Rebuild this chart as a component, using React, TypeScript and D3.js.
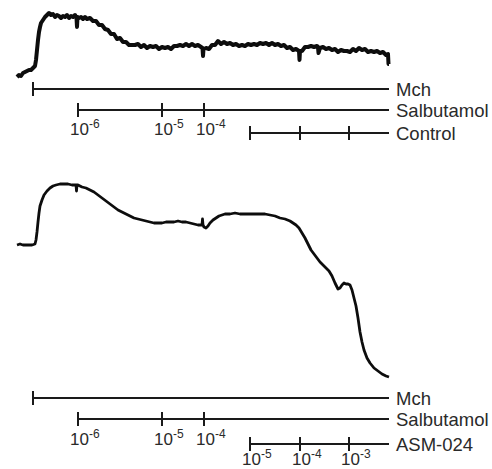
import React from "react";
import * as d3 from "d3";

// Control recording: time (s, relative) and tension (arbitrary units)
const controlT = [
  0, 2, 4, 6, 8, 10, 12, 14, 16, 18,
  19, 20, 21, 22, 23, 24, 26, 28, 30, 32,
  34, 36, 38, 40, 42, 44, 46, 48, 50, 52,
  54, 56, 58, 59.5, 60, 60.5, 62, 64, 66, 68,
  70, 73, 76, 79, 82, 85, 88, 91, 94, 97,
  100, 103, 106, 109, 112, 115, 118, 121, 124, 127,
  130, 133, 136, 139, 142, 145, 148, 151, 154, 157,
  160, 163, 166, 169, 172, 175, 178, 181, 184, 185.5,
  186, 186.5, 189, 192, 195, 198, 201, 204, 207, 210,
  213, 216, 219, 222, 225, 228, 231, 234, 237, 240,
  243, 246, 249, 252, 255, 258, 261, 264, 267, 270,
  273, 276, 279, 282, 282.5, 283, 285, 288, 291, 294,
  297, 300, 301, 301.5, 303, 306, 309, 312, 315, 318,
  321, 324, 327, 330, 333, 336, 339, 342, 345, 348,
  351, 354, 357, 360, 363, 366, 369, 371, 371.5, 372,
];
const controlV = [
  3, 5, 4, 7, 8, 9, 10, 10, 12, 14,
  20, 30, 40, 48, 53, 57, 60, 63, 65, 67,
  65, 66, 63, 65, 64, 62, 64, 63, 65, 62,
  64, 63, 65, 62, 53, 63, 62, 63, 61, 63,
  61, 62, 59, 59, 55, 55, 51, 50, 46, 46,
  41, 42, 38, 38, 35, 35, 35, 36, 33, 35,
  32, 34, 33, 34, 31, 33, 32, 33, 31, 34,
  34, 35, 34, 36, 34, 36, 34, 35, 33, 32,
  24, 31, 32, 31, 35, 35, 39, 36, 38, 36,
  37, 35, 36, 34, 35, 34, 36, 35, 36, 35,
  37, 36, 37, 35, 37, 35, 36, 34, 35, 32,
  33, 30, 31, 29, 20, 29, 29, 33, 33, 34,
  33, 34, 33, 27, 32, 33, 31, 32, 30, 31,
  28, 30, 29, 29, 28, 31, 29, 32, 30, 31,
  28, 29, 28, 29, 27, 28, 25, 26, 16, 16,
];

// ASM-024 recording: time and tension
const asmT = [
  0, 3, 6, 9, 12, 15, 18, 19, 20, 21,
  22, 23, 25, 27, 30, 33, 36, 39, 43, 47,
  51, 55, 59, 59.5, 60, 61, 65, 69, 73, 77,
  81, 85, 89, 93, 97, 101, 105, 109, 113, 117,
  121, 125, 129, 133, 137, 141, 145, 149, 153, 157,
  161, 165, 169, 173, 177, 181, 185, 185.5, 186, 187,
  189, 191, 193, 196, 199, 202, 205, 208, 213, 218,
  223, 228, 233, 238, 243, 248, 253, 258, 263, 268,
  273, 276, 279, 282, 285, 288, 291, 294, 297, 300,
  303, 306, 309, 312, 315, 318, 321, 323, 325, 327,
  329, 331, 333, 335, 337, 339, 341, 343, 345, 347,
  350, 353, 357, 361, 365, 369, 372,
];
const asmV = [
  145, 146, 145, 145, 145, 145, 146, 150, 158, 168,
  177, 184, 190, 195, 199, 202, 204, 205, 206, 206,
  206, 205, 205, 199, 205, 205, 203, 202, 200, 198,
  195, 192, 189, 186, 183, 180, 178, 176, 174, 172,
  171, 170, 169, 168, 167, 167, 167, 168, 168, 168,
  169, 168, 168, 167, 166, 165, 165, 171, 165, 163,
  162, 164, 167, 170, 172, 174, 175, 176, 176, 177,
  176, 176, 176, 176, 176, 176, 175, 174, 172, 171,
  169, 167, 165, 162, 157, 152, 146, 140, 136, 132,
  128, 125, 122, 119, 114, 107, 101, 102, 105, 107,
  106, 106, 105, 100, 92, 84, 72, 58, 48, 40,
  32, 27, 22, 19, 16, 14, 13,
];

// Additions (time) and labels
const mchTime = [16];
const salbTimes = [61, 145, 187];
const salbLabels = ["-6", "-5", "-4"];
const controlTimes = [233, 283, 332];
const asmTimes = [233, 283, 332];
const asmLabels = ["-5", "-4", "-3"];
const endTime = 372;

const FONT = "'Liberation Sans', Arial, Helvetica, sans-serif";

export default function App() {
  const x = d3.scaleLinear().domain([0, endTime]).range([17, 389]);
  const yTop = d3.scaleLinear().domain([0, 70]).range([80, 10]);
  const yBot = d3.scaleLinear().domain([0, 210]).range([390, 180]);

  const topLine = d3
    .line<number>()
    .x((_, i) => x(controlT[i]))
    .y((d) => yTop(d));
  const botLine = d3
    .line<number>()
    .x((_, i) => x(asmT[i]))
    .y((d) => yBot(d));

  const stroke = "#0d0d0d";
  const axisColor = "#1a1a1a";
  const textColor = "#2a2a2a";

  const bar = (y: number, start: number, ticks: number[], name: string, key: string) => (
    <g key={key}>
      <line x1={x(start)} x2={x(endTime)} y1={y} y2={y} stroke={axisColor} strokeWidth={2} />
      {ticks.map((t, i) => (
        <line key={i} x1={x(t)} x2={x(t)} y1={y - 7} y2={y + 7} stroke={axisColor} strokeWidth={2} />
      ))}
      <text x={396} y={y + 6.5} fontFamily={FONT} fontSize={18.5} fill={textColor}>
        {name}
      </text>
    </g>
  );

  const tickLabels = (times: number[], labels: string[], baseline: number, key: string) => (
    <g key={key}>
      {times.map((t, i) => (
        <text key={i} x={x(t) - 8} y={baseline} fontFamily={FONT} fontSize={17} fill={textColor}>
          10
          <tspan fontSize={12} dy={-7}>
            {labels[i]}
          </tspan>
        </text>
      ))}
    </g>
  );

  return (
    <svg width={492} height={469} style={{ position: "absolute", left: 0, top: 0, background: "#fff" }}>
      <path d={topLine(controlV) || ""} fill="none" stroke={stroke} strokeWidth={4} strokeLinejoin="round" />
      {bar(89, mchTime[0], mchTime, "Mch", "m1")}
      {bar(110, salbTimes[0], salbTimes, "Salbutamol", "s1")}
      {tickLabels(salbTimes, salbLabels, 135, "l1")}
      {bar(133, controlTimes[0], controlTimes, "Control", "c1")}

      <path d={botLine(asmV) || ""} fill="none" stroke={stroke} strokeWidth={2.8} strokeLinejoin="round" />
      {bar(398, mchTime[0], mchTime, "Mch", "m2")}
      {bar(419, salbTimes[0], salbTimes, "Salbutamol", "s2")}
      {tickLabels(salbTimes, salbLabels, 445, "l2")}
      {bar(444, asmTimes[0], asmTimes, "ASM-024", "a2")}
      {tickLabels(asmTimes, asmLabels, 465, "l3")}
    </svg>
  );
}
